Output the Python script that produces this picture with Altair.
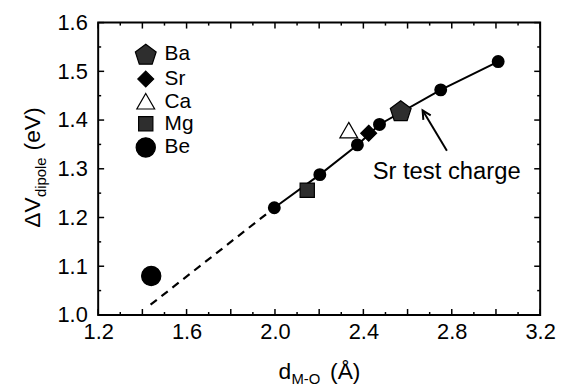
import altair as alt
import pandas as pd

FONT = "Liberation Sans"

# Sr test charge calculations (solid line + small circles)
test_d = [1.997, 2.203, 2.373, 2.473, 2.750, 3.010]
test_v = [1.220, 1.288, 1.349, 1.391, 1.462, 1.520]

# extrapolation of the fit (dashed)
extrap_d = [1.437, 1.975]
extrap_v = [1.021, 1.212]

# alkaline-earth metals
metals = ["Ba", "Sr", "Ca", "Mg", "Be"]
metal_d = [2.569, 2.424, 2.334, 2.146, 1.440]
metal_v = [1.419, 1.373, 1.378, 1.256, 1.080]
metal_fill = ["#2e2e2e", "black", "white", "#2e2e2e", "black"]
metal_stroke = ["black", "black", "black", "black", "black"]
# symbol outlines (unit: 10 px at size 400)
metal_shape = [
    "M0,-1.02L1.05,-0.24L0.65,0.99L-0.65,0.99L-1.05,-0.24Z",   # pentagon
    "M0,-0.8L0.8,0L0,0.8L-0.8,0Z",                              # diamond
    "M0,-0.85L0.9,0.72L-0.9,0.72Z",                             # triangle
    "M-0.72,-0.72L0.72,-0.72L0.72,0.72L-0.72,0.72Z",            # square
    "M-0.97,0A0.97,0.97 0 1,0 0.97,0A0.97,0.97 0 1,0 -0.97,0Z", # circle
]
SYM = 400

# annotation
annot_text = ["Sr test charge"]
annot_d = [2.442]
annot_v = [1.293]
arrow_d = [2.778, 2.668]
arrow_v = [1.337, 1.420]

# axes
x_labels = [1.2, 1.6, 2.0, 2.4, 2.8, 3.2]
y_labels = [1.0, 1.1, 1.2, 1.3, 1.4, 1.5, 1.6]
x_major = [1.2, 1.4, 1.6, 1.8, 2.0, 2.2, 2.4, 2.6, 2.8, 3.0, 3.2]
x_minor = [1.3, 1.5, 1.7, 1.9, 2.1, 2.3, 2.5, 2.7, 2.9, 3.1]
y_major = [1.0, 1.1, 1.2, 1.3, 1.4, 1.5, 1.6]
y_minor = [1.05, 1.15, 1.25, 1.35, 1.45, 1.55]

x_title = ["d", "M-O", "(Å)"]
y_title = ["ΔV", "dipole", "(eV)"]

W, H = 446, 295
XD = [1.2, 3.2]
YD = [1.0, 1.6]

xs = alt.Scale(domain=XD, nice=False, zero=False)
ys = alt.Scale(domain=YD, nice=False, zero=False)

test_df = pd.DataFrame({"d": test_d, "v": test_v})
extrap_df = pd.DataFrame({"d": extrap_d, "v": extrap_v})
metal_df = pd.DataFrame({"metal": metals, "d": metal_d, "v": metal_v})
annot_df = pd.DataFrame({"d": annot_d, "v": annot_v, "t": annot_text})
arrow_df = pd.DataFrame({"d": arrow_d, "v": arrow_v, "o": [0, 1]})
head_df = arrow_df.iloc[[1]]

axis_x = alt.Axis(values=x_labels, format=".1f", title=None, ticks=False, domain=False,
                  grid=False, labelFontSize=22, labelFont=FONT, labelColor="black",
                  labelPadding=7, labelFlush=False, labelOverlap=False)
axis_y = alt.Axis(values=y_labels, format=".1f", title=None, ticks=False, domain=False,
                  grid=False, labelFontSize=22, labelFont=FONT, labelColor="black",
                  labelPadding=11, labelFlush=False, labelOverlap=False)

X = alt.X("d:Q", scale=xs, axis=axis_x)
Y = alt.Y("v:Q", scale=ys, axis=axis_y)

base_line = alt.Chart(test_df).mark_line(color="black", strokeWidth=2).encode(x=X, y=Y)
circles = alt.Chart(test_df).mark_circle(color="black", size=170, opacity=1).encode(x=X, y=Y)
dashed = alt.Chart(extrap_df).mark_line(color="black", strokeWidth=2.2,
                                        strokeDash=[8, 6]).encode(x=X, y=Y)
points = alt.Chart(metal_df).mark_point(filled=True, strokeWidth=1.2,
                                        opacity=1, size=SYM).encode(
    x=X, y=Y,
    shape=alt.Shape("metal:N", scale=alt.Scale(domain=metals, range=metal_shape),
                    legend=alt.Legend(orient="none", legendX=37, legendY=21, title=None,
                                      labelFontSize=21, labelFont=FONT, labelColor="black",
                                      symbolStrokeWidth=1.2, symbolSize=SYM,
                                      rowPadding=1, labelOffset=8, padding=0)),
    fill=alt.Fill("metal:N", scale=alt.Scale(domain=metals, range=metal_fill)),
    stroke=alt.Stroke("metal:N", scale=alt.Scale(domain=metals, range=metal_stroke)),
)
annot = alt.Chart(annot_df).mark_text(align="left", baseline="middle", fontSize=24,
                                      font=FONT, color="black").encode(x=X, y=Y, text="t:N")
arrow = alt.Chart(arrow_df).mark_line(color="black", strokeWidth=2).encode(x=X, y=Y, order="o:Q")
head = alt.Chart(head_df).mark_point(shape="M-0.5,1L0,0L0.5,1", angle=329, filled=False,
                                     stroke="black", strokeWidth=2, size=300,
                                     opacity=1).encode(x=X, y=Y)

# inner ticks
def xticks(vals, length):
    df = pd.DataFrame({"d": vals})
    b = alt.Chart(df).mark_rule(color="black", strokeWidth=1.5).encode(
        x=X, y=alt.value(H), y2=alt.value(H - length))
    t = alt.Chart(df).mark_rule(color="black", strokeWidth=1.5).encode(
        x=X, y=alt.value(0), y2=alt.value(length))
    return [b, t]

def yticks(vals, length):
    df = pd.DataFrame({"v": vals})
    l = alt.Chart(df).mark_rule(color="black", strokeWidth=1.5).encode(
        y=Y, x=alt.value(0), x2=alt.value(length))
    r = alt.Chart(df).mark_rule(color="black", strokeWidth=1.5).encode(
        y=Y, x=alt.value(W), x2=alt.value(W - length))
    return [l, r]

ticks = xticks(x_major, 6) + xticks(x_minor, 3) + yticks(y_major, 6) + yticks(y_minor, 3)

def label(text, x, y, size, angle=0):
    df = pd.DataFrame({"t": [text]})
    kw = dict(align="left", baseline="alphabetic", fontSize=size, font=FONT, color="black")
    if angle:
        kw["angle"] = angle
    return alt.Chart(df).mark_text(**kw).encode(x=alt.value(x), y=alt.value(y), text="t:N")

xt0 = 182
titles = [
    label(x_title[0], xt0, 360, 23),
    label(x_title[1], xt0 + 13, 365, 15),
    label(x_title[2], xt0 + 13 + 29 + 10, 360, 23),
    label(y_title[0], -59, 207, 23, 270),
    label(y_title[1], -53, 207 - 31, 15, 270),
    label(y_title[2], -59, 207 - 31 - 40 - 7, 23, 270),
]

chart = alt.layer(base_line, dashed, circles, arrow, head, annot, points, *ticks, *titles).properties(
    width=W, height=H,
    padding={"left": 91, "top": 13, "right": 18, "bottom": 75},
    autosize="none",
).configure_view(stroke="black", strokeWidth=2)

chart.save("out.html", embed_options={"renderer": "svg", "actions": False})
